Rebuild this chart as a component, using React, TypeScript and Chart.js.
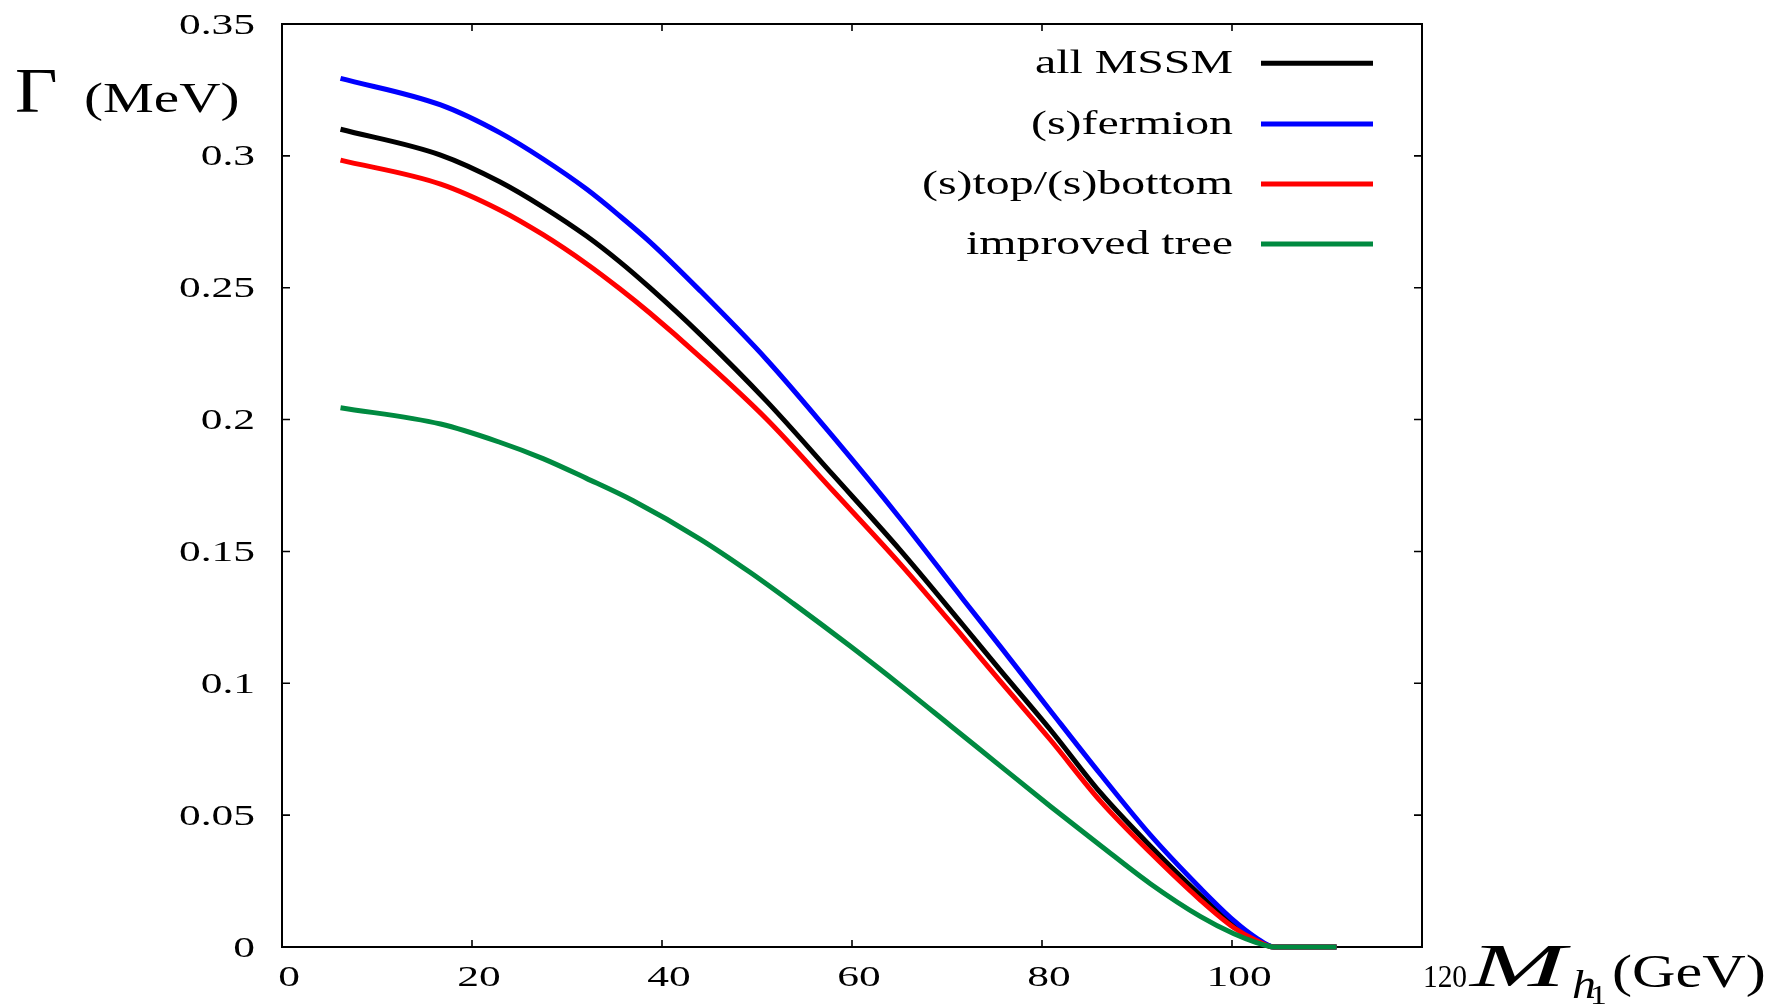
import React, { useEffect, useRef } from "react";
import { Chart, registerables } from "chart.js";

Chart.register(...registerables);

// Higgs mass M_h1 (GeV) sampling for the three one-loop curves
const massLoop = [6.16, 16.7, 22.92, 27.48, 32.05, 35.56, 38.72, 44.0, 51.0, 58.0, 65.07, 71.7, 75.6, 80.9, 86.15, 91.4, 96.7, 100.2, 102.5, 104.4, 111.0];
// Width Γ (MeV)
const allMSSM = [0.3101, 0.3003, 0.2902, 0.2806, 0.2696, 0.2598, 0.25, 0.2324, 0.207, 0.179, 0.1505, 0.122, 0.105, 0.0823, 0.0585, 0.0383, 0.0195, 0.0083, 0.003, 0, 0];
const sfermion = [0.3294, 0.3193, 0.3088, 0.2988, 0.2874, 0.2772, 0.2674, 0.2489, 0.2228, 0.1935, 0.1625, 0.1318, 0.114, 0.0895, 0.0655, 0.0425, 0.0222, 0.01, 0.0036, 0, 0];
const stopSbottom = [0.2984, 0.2893, 0.2795, 0.2701, 0.2591, 0.2496, 0.2404, 0.2238, 0.2002, 0.173, 0.1453, 0.1175, 0.1008, 0.0785, 0.0553, 0.0358, 0.0177, 0.0073, 0.0026, 0, 0];

// Improved tree-level curve
const massTree = [6.16, 16.7, 22.92, 27.48, 32.05, 36.97, 44.0, 49.26, 53.8, 59.8, 65.07, 70.34, 75.6, 80.9, 86.15, 91.4, 96.7, 100.2, 102.5, 104.4, 111.0];
const improvedTree = [0.2045, 0.1983, 0.1914, 0.1852, 0.1777, 0.1692, 0.1547, 0.1421, 0.1303, 0.1141, 0.0993, 0.084, 0.0687, 0.0533, 0.0385, 0.024, 0.0115, 0.005, 0.0018, 0, 0];

const seriesLabels = ["all MSSM", "(s)fermion", "(s)top/(s)bottom", "improved tree"];
const seriesColors = ["#000000", "#0000ff", "#ff0000", "#008a40"];

const xTicks = [0, 20, 40, 60, 80, 100, 120];
const yTicks = [0, 0.05, 0.1, 0.15, 0.2, 0.25, 0.3, 0.35];
const yTickLabels = ["0", "0.05", "0.1", "0.15", "0.2", "0.25", "0.3", "0.35"];

const SERIF = '"Liberation Serif", "DejaVu Serif", serif';

function toPoints(xs: number[], ys: number[]) {
  return xs.map((x, i) => ({ x, y: ys[i] }));
}

// draws text horizontally stretched by sx
function drawText(
  ctx: CanvasRenderingContext2D,
  text: string,
  x: number,
  y: number,
  font: string,
  sx: number,
  align: "left" | "right" | "center"
) {
  ctx.save();
  ctx.font = font;
  ctx.textAlign = "left";
  ctx.textBaseline = "alphabetic";
  const w = ctx.measureText(text).width * sx;
  const left = align === "right" ? x - w : align === "center" ? x - w / 2 : x;
  ctx.translate(left, y);
  ctx.scale(sx, 1);
  ctx.fillStyle = "#000";
  ctx.fillText(text, 0, 0);
  ctx.restore();
}

const framePlugin = {
  id: "frame",
  beforeDatasetsDraw(chart: any) {
    const { ctx, chartArea, scales } = chart;
    const { left, right, top, bottom } = chartArea;
    ctx.save();
    ctx.strokeStyle = "#000";
    ctx.lineWidth = 2;
    ctx.strokeRect(left, top, right - left, bottom - top);
    ctx.lineWidth = 1.6;
    ctx.beginPath();
    for (const v of xTicks) {
      const px = scales.x.getPixelForValue(v);
      ctx.moveTo(px, bottom);
      ctx.lineTo(px, bottom - 7);
      ctx.moveTo(px, top);
      ctx.lineTo(px, top + 7);
    }
    for (const v of yTicks) {
      const py = scales.y.getPixelForValue(v);
      ctx.moveTo(left, py);
      ctx.lineTo(left + 8, py);
      ctx.moveTo(right, py);
      ctx.lineTo(right - 8, py);
    }
    ctx.stroke();
    ctx.restore();
  },
  afterDraw(chart: any) {
    const { ctx, chartArea, scales } = chart;
    // y tick labels
    yTicks.forEach((v, i) => {
      const py = scales.y.getPixelForValue(v);
      drawText(ctx, yTickLabels[i], chartArea.left - 27, py + 9.5, `29px ${SERIF}`, 1.5, "right");
    });
    // x tick labels; the last one sits beside the axis title
    xTicks.forEach((v, i) => {
      const px = scales.x.getPixelForValue(v);
      if (i === xTicks.length - 1) {
        drawText(ctx, String(v), px + 23, chartArea.bottom + 40, `32px ${SERIF}`, 0.92, "center");
      } else {
        drawText(ctx, String(v), px + 7, chartArea.bottom + 39, `29px ${SERIF}`, 1.5, "center");
      }
    });
    // axis titles
    drawText(ctx, "Γ", 15, 112, `64px ${SERIF}`, 1.15, "left");
    drawText(ctx, "(MeV)", 84, 112, `42px ${SERIF}`, 1.36, "left");
    drawText(ctx, "M", 1470, 986, `italic 62px ${SERIF}`, 1.85, "left");
    drawText(ctx, "h", 1572, 998, `italic 40px ${SERIF}`, 1.2, "left");
    drawText(ctx, "1", 1590, 1004, `28px ${SERIF}`, 1.2, "left");
    drawText(ctx, "(GeV)", 1612, 987, `47px ${SERIF}`, 1.28, "left");

    // key
    const rowY = [63.3, 124, 184, 244];
    chart.data.datasets.forEach((ds: any, i: number) => {
      const y = rowY[i];
      drawText(ctx, ds.label, 1233, y + 10, `33px ${SERIF}`, 1.45, "right");
      ctx.save();
      ctx.strokeStyle = ds.borderColor;
      ctx.lineWidth = 5;
      ctx.beginPath();
      ctx.moveTo(1261, y);
      ctx.lineTo(1373, y);
      ctx.stroke();
      ctx.restore();
    });
  },
};

export default function App() {
  const canvasRef = useRef<HTMLCanvasElement | null>(null);

  useEffect(() => {
    const canvas = canvasRef.current;
    if (!canvas) return;
    const seriesData = [
      toPoints(massLoop, allMSSM),
      toPoints(massLoop, sfermion),
      toPoints(massLoop, stopSbottom),
      toPoints(massTree, improvedTree),
    ];
    const drawOrder = [3, 2, 1, 0];
    const chart = new Chart(canvas, {
      type: "line",
      data: {
        datasets: seriesData.map((d, i) => ({
          label: seriesLabels[i],
          data: d,
          borderColor: seriesColors[i],
          backgroundColor: seriesColors[i],
          borderWidth: 5,
          pointRadius: 0,
          cubicInterpolationMode: "monotone" as const,
          fill: false,
          clip: false as any,
          borderJoinStyle: "round" as const,
          borderCapStyle: "butt" as const,
          order: drawOrder[i],
        })),
      },
      options: {
        animation: false,
        responsive: false,
        devicePixelRatio: 1,
        layout: { padding: { left: 282, right: 359, top: 24, bottom: 58 } },
        plugins: { legend: { display: false }, tooltip: { enabled: false } },
        events: [],
        scales: {
          x: { type: "linear", min: 0, max: 120, display: false },
          y: { type: "linear", min: 0, max: 0.35, display: false },
        },
      },
      plugins: [framePlugin],
    });
    return () => chart.destroy();
  }, []);

  return (
    <div style={{ position: "fixed", left: 0, top: 0, width: 1781, height: 1005, background: "#fff" }}>
      <canvas ref={canvasRef} width={1781} height={1005} style={{ display: "block" }} />
    </div>
  );
}
